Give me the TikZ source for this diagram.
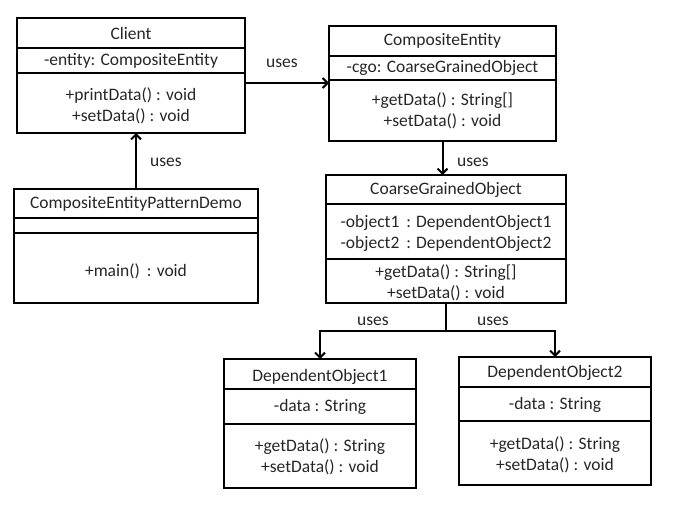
\documentclass[tikz,border=0pt]{standalone}
\usepackage{fontspec}
\setmainfont{Carlito}
\usetikzlibrary{arrows.meta}
\tikzset{
  cls/.style={draw, line width=2pt, inner sep=0pt, outer sep=0pt},
  sep/.style={line width=2pt},
  uses/.style={line width=2pt, -{Straight Barb[length=5pt,width=10pt]}},
  txt/.style={font=\fontsize{17.5}{21}\selectfont, text=black!85, align=center, inner sep=0pt}
}
\begin{document}
\begin{tikzpicture}[x=1pt,y=-1pt]
    \useasboundingbox (0,0) rectangle (686,508);
    \node[cls, minimum width=228pt, minimum height=115pt] (client) at (131,75.5) {};
    \draw[sep] (17,48) -- (245,48);
    \draw[sep] (17,73) -- (245,73);
    \node[txt] (clientname) at (131,33) {Client};
    \node[txt] (clientattr) at (131,60.5) {-entity: CompositeEntity};
    \node[txt] (clientops) at (131,105.5) {+printData() : void\\+setData() : void};
    \node[cls, minimum width=244pt, minimum height=114pt] (demo) at (136,246) {};
    \draw[sep] (14,218) -- (258,218);
    \draw[sep] (14,233) -- (258,233);
    \node[txt] (demoname) at (136,203.5) {CompositeEntityPatternDemo};
    \node[txt] (demoops) at (136,271) {+main()\, : void};
    \node[cls, minimum width=227pt, minimum height=115pt] (ce) at (442.5,83.5) {};
    \draw[sep] (329,56) -- (556,56);
    \draw[sep] (329,80) -- (556,80);
    \node[txt] (cename) at (442.5,41) {CompositeEntity};
    \node[txt] (ceattr) at (442.5,68) {-cgo: CoarseGrainedObject};
    \node[txt] (ceops) at (442.5,111) {+getData() : String[]\\+setData() : void};
    \node[cls, minimum width=240pt, minimum height=128pt] (cgo) at (446,239) {};
    \draw[sep] (326,204) -- (566,204);
    \draw[sep] (326,259) -- (566,259);
    \node[txt] (cgoname) at (446,189.5) {CoarseGrainedObject};
    \node[txt] (cgoattr) at (446,233.5) {-object1\, : DependentObject1\\-object2\, : DependentObject2};
    \node[txt] (cgoops) at (446,282.5) {+getData() : String[]\\+setData() : void};
    \node[cls, minimum width=192pt, minimum height=129pt] (do1) at (320,423.5) {};
    \draw[sep] (224,389) -- (416,389);
    \draw[sep] (224,424) -- (416,424);
    \node[txt] (do1name) at (320,377) {DependentObject1};
    \node[txt] (do1attr) at (320,407) {-data : String};
    \node[txt] (do1ops) at (320,457) {+getData() : String\\+setData() : void};
    \node[cls, minimum width=192pt, minimum height=128pt] (do2) at (555,421) {};
    \draw[sep] (459,387) -- (651,387);
    \draw[sep] (459,421) -- (651,421);
    \node[txt] (do2name) at (555,373) {DependentObject2};
    \node[txt] (do2attr) at (555,405) {-data : String};
    \node[txt] (do2ops) at (555,455) {+getData() : String\\+setData() : void};
    \coordinate (fork) at (446,331);
    \draw[uses] ([yshift=-7.5pt]client.east) -- ([yshift=-7.5pt]client.east -| ce.west);
    \draw[uses] (demo.north) -- (demo.north |- client.south);
    \draw[uses] (ce.south) -- (ce.south |- cgo.north);
    \draw[uses] (cgo.south) -- (fork) -| (do1.north);
    \draw[uses] (fork) -| (do2.north);
    \node[txt] (uses1) at (282,63) {uses};
    \node[txt] (uses2) at (166,162) {uses};
    \node[txt] (uses3) at (473,162) {uses};
    \node[txt] (uses4) at (373,321) {uses};
    \node[txt] (uses5) at (493,321) {uses};
\end{tikzpicture}
\end{document}
